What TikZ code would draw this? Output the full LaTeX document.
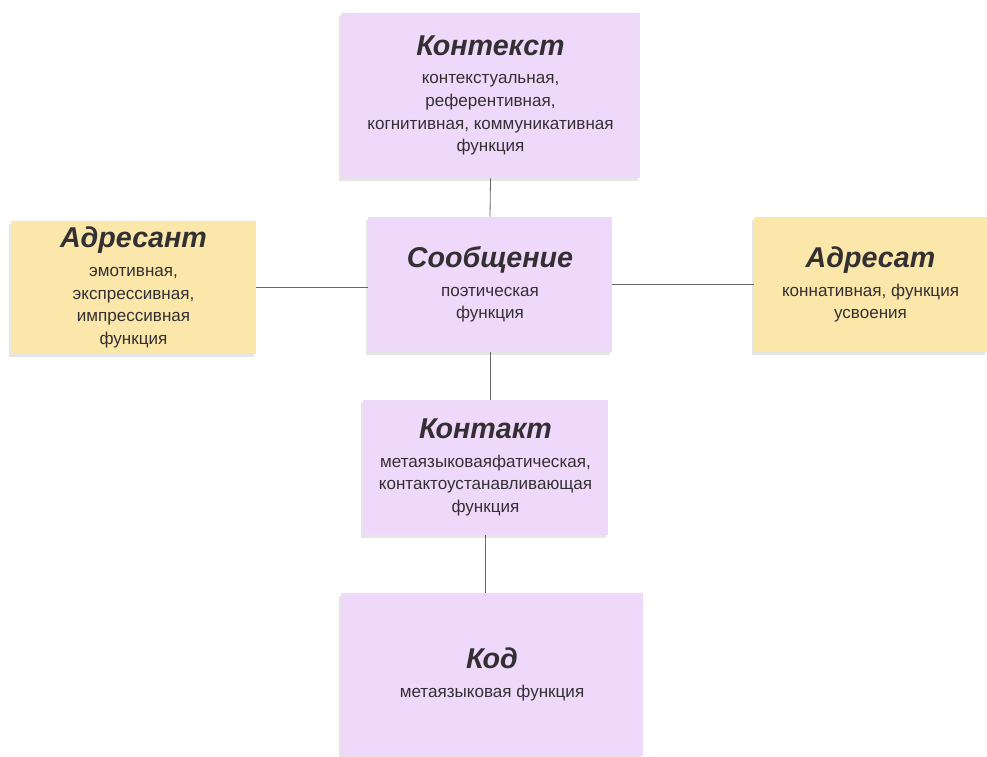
\documentclass[tikz,border=0pt]{standalone}
\usepackage{fontspec}
\setmainfont{Liberation Sans}
\usetikzlibrary{positioning,shadows}

\definecolor{lilac}{HTML}{EFD9FA}
\definecolor{sand}{HTML}{FBE7A9}
\definecolor{ink}{HTML}{333033}

\newcommand{\head}[1]{{\fontsize{21.5}{24}\selectfont\bfseries\itshape #1}\\[4.5pt]}

\begin{document}
\begin{tikzpicture}[x=0.75pt,y=-0.75pt,
    note/.style={inner sep=0pt,align=center,text=ink,
        font=\fontsize{12.8}{17}\selectfont,
        drop shadow={shadow xshift=-1.5pt,shadow yshift=-2.5pt,opacity=0.2}},
    lilacnote/.style={note,fill=lilac},
    sandnote/.style={note,fill=sand},
    link/.style={draw=black!60,line width=0.6pt}]

\def\u{0.75pt}

\useasboundingbox[fill=white] (0,0) rectangle (987,756);

\node[lilacnote,minimum width=299*\u,minimum height=165*\u] (ctx) at (490.5,95.5)
    {\head{Контекст}контекстуальная,\\референтивная,\\когнитивная, коммуникативная\\функция};

\node[lilacnote,minimum width=244*\u,minimum height=135*\u] (msg) at (490,284.5)
    {\head{Сообщение}поэтическая\\функция};

\node[sandnote,minimum width=245*\u,minimum height=133*\u] (src) at (133.5,287.5)
    {\head{Адресант}эмотивная,\\экспрессивная,\\импрессивная\\функция};

\node[sandnote,minimum width=233*\u,minimum height=135*\u] (dst) at (870.5,284.5)
    {\head{Адресат}коннативная, функция\\усвоения};

\node[lilacnote,minimum width=245*\u,minimum height=135*\u] (cont) at (485.5,467.5)
    {\head{Контакт}метаязыковаяфатическая,\\контактоустанавливающая\\функция};

\node[lilacnote,minimum width=302*\u,minimum height=163*\u] (code) at (492,674.5)
    {\head{Код}метаязыковая функция};

% links
\draw[link] (ctx.south) -- (msg.north);
\draw[link] (src.east) -- (src.east -| msg.west);
\draw[link] (msg.east) -- (msg.east -| dst.west);
\draw[link] (msg.south) -- (msg.south |- cont.north);
\draw[link] (cont.south) -- (cont.south |- code.north);
\end{tikzpicture}
\end{document}
